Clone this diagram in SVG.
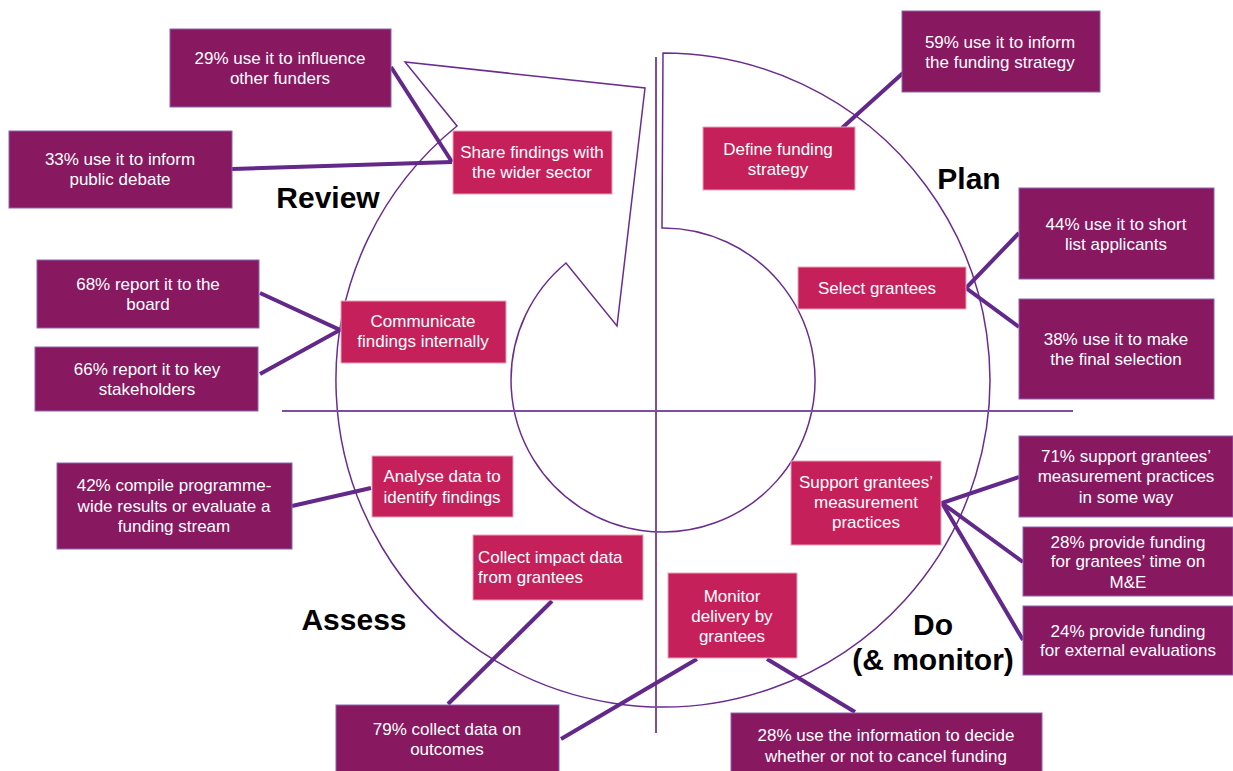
<svg xmlns="http://www.w3.org/2000/svg" width="1233" height="771" viewBox="0 0 1233 771">
<style>
.dark{fill:#88185F;stroke:#8C62B4;stroke-width:1}
.pink{fill:#C5205A;stroke:#E7A3BC;stroke-width:1}
.t{font-family:"Liberation Sans",Arial,sans-serif;font-size:17px;fill:#FFFFFF;text-anchor:middle}
.tl{text-anchor:start}
.lbl{font-family:"Liberation Sans",Arial,sans-serif;font-size:30px;font-weight:bold;fill:#000000;text-anchor:middle}
.con{stroke:#62288A;stroke-width:4;fill:none;stroke-linecap:butt}
.axis{stroke:#7D4EA0;stroke-width:2;fill:none}
.spiral{stroke:#6A2C91;stroke-width:1.5;fill:none}
</style>
<rect width="1233" height="771" fill="#FFFFFF"/>
<g id="cycle">
<path class="spiral" d="M663,53 A327,327 0 1 1 457,126 L405,62 L645,88 L617,326 L566,263 A152,152 0 1 0 662,228 Z"/>
<line class="axis" x1="656" y1="57" x2="656" y2="733"/>
<line class="axis" x1="282" y1="411" x2="1073" y2="411"/>
</g>
<g id="connectors">
<line class="con" x1="391" y1="67" x2="452" y2="162"/>
<line class="con" x1="232" y1="169" x2="452" y2="162"/>
<line class="con" x1="842" y1="128" x2="903" y2="73"/>
<polyline class="con" points="1019,233 966,288 1019,327"/>
<polyline class="con" points="260,293 340,330 260,374"/>
<line class="con" x1="292" y1="506" x2="371" y2="488"/>
<polyline class="con" points="1019,477 942,503 1023,562"/>
<line class="con" x1="942" y1="503" x2="1023" y2="640"/>
<line class="con" x1="552" y1="601" x2="448" y2="704"/>
<line class="con" x1="697" y1="659" x2="561" y2="739"/>
<line class="con" x1="767" y1="659" x2="855" y2="712"/>
</g>
<g id="n-influence"><rect class="dark" x="170" y="29" width="221" height="78"/><text class="t" x="280" y="64">29% use it to influence</text><text class="t" x="280" y="84">other funders</text></g>
<g id="n-debate"><rect class="dark" x="9" y="131" width="223" height="77"/><text class="t" x="120" y="165">33% use it to inform</text><text class="t" x="120" y="185">public debate</text></g>
<g id="n-strategy59"><rect class="dark" x="902" y="11" width="198" height="81"/><text class="t" x="1000" y="48">59% use it to inform</text><text class="t" x="1000" y="68">the funding strategy</text></g>
<g id="n-short"><rect class="dark" x="1019" y="188" width="195" height="91"/><text class="t" x="1116" y="230">44% use it to short</text><text class="t" x="1116" y="250">list applicants</text></g>
<g id="n-final"><rect class="dark" x="1019" y="299" width="195" height="100"/><text class="t" x="1116" y="345">38% use it to make</text><text class="t" x="1116" y="365">the final selection</text></g>
<g id="n-board"><rect class="dark" x="37" y="260" width="222" height="68"/><text class="t" x="148" y="290">68% report it to the</text><text class="t" x="148" y="310">board</text></g>
<g id="n-stake"><rect class="dark" x="35" y="347" width="223" height="64"/><text class="t" x="147" y="375">66% report it to key</text><text class="t" x="147" y="395">stakeholders</text></g>
<g id="n-compile"><rect class="dark" x="57" y="463" width="235" height="86"/><text class="t" x="174" y="491">42% compile programme-</text><text class="t" x="174" y="512">wide results or evaluate a</text><text class="t" x="174" y="532">funding stream</text></g>
<g id="n-support71"><rect class="dark" x="1019" y="436" width="214" height="81"/><text class="t" x="1126" y="462">71% support grantees’</text><text class="t" x="1126" y="482">measurement practices</text><text class="t" x="1126" y="503">in some way</text></g>
<g id="n-time"><rect class="dark" x="1023" y="527" width="210" height="69"/><text class="t" x="1128" y="548">28% provide funding</text><text class="t" x="1128" y="567">for grantees’ time on</text><text class="t" x="1128" y="588">M&amp;E</text></g>
<g id="n-external"><rect class="dark" x="1023" y="606" width="210" height="69"/><text class="t" x="1128" y="637">24% provide funding</text><text class="t" x="1128" y="656">for external evaluations</text></g>
<g id="n-outcomes"><rect class="dark" x="336" y="705" width="223" height="67"/><text class="t" x="447" y="735">79% collect data on</text><text class="t" x="447" y="755">outcomes</text></g>
<g id="n-cancel"><rect class="dark" x="731" y="713" width="311" height="59"/><text class="t" x="886" y="741">28% use the information to decide</text><text class="t" x="886" y="762">whether or not to cancel funding</text></g>
<g id="n-share"><rect class="pink" x="453" y="131" width="159" height="63"/><text class="t" x="532" y="158">Share findings with</text><text class="t" x="532" y="178">the wider sector</text></g>
<g id="n-define"><rect class="pink" x="703" y="127" width="152" height="63"/><text class="t" x="778" y="155">Define funding</text><text class="t" x="778" y="175">strategy</text></g>
<g id="n-select"><rect class="pink" x="798" y="267" width="168" height="42"/><text class="t" x="877" y="294">Select grantees</text></g>
<g id="n-communicate"><rect class="pink" x="341" y="301" width="165" height="62"/><text class="t" x="423" y="327">Communicate</text><text class="t" x="423" y="347">findings internally</text></g>
<g id="n-analyse"><rect class="pink" x="372" y="456" width="141" height="61"/><text class="t" x="442" y="482">Analyse data to</text><text class="t" x="442" y="503">identify findings</text></g>
<g id="n-supportm"><rect class="pink" x="791" y="461" width="150" height="84"/><text class="t" x="866" y="488">Support grantees’</text><text class="t" x="866" y="508">measurement</text><text class="t" x="866" y="528">practices</text></g>
<g id="n-collect"><rect class="pink" x="473" y="535" width="170" height="65"/><text class="t tl" x="478" y="563">Collect impact data</text><text class="t tl" x="478" y="583">from grantees</text></g>
<g id="n-monitor"><rect class="pink" x="668" y="573" width="129" height="85"/><text class="t" x="732" y="602">Monitor</text><text class="t" x="732" y="622">delivery by</text><text class="t" x="732" y="642">grantees</text></g>
<g id="labels">
<text class="lbl" x="328" y="208">Review</text>
<text class="lbl" x="969" y="189">Plan</text>
<text class="lbl" x="354" y="630">Assess</text>
<text class="lbl" x="933" y="635">Do</text>
<text class="lbl" x="933" y="670">(&amp; monitor)</text>
</g>
</svg>
